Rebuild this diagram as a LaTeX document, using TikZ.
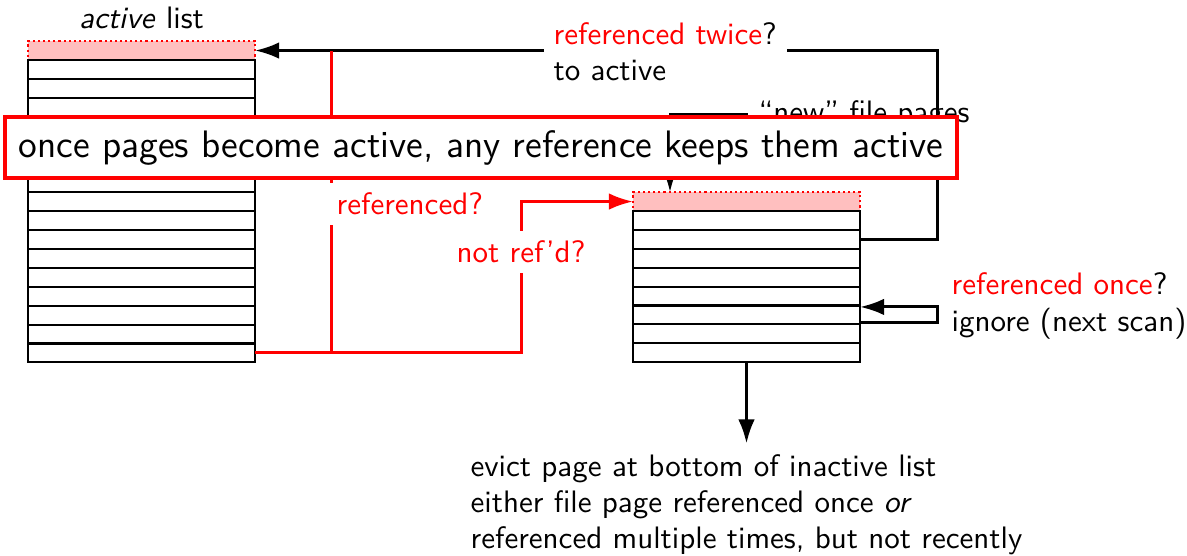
\documentclass[tikz,border=0pt]{standalone}
\usepackage{tikz}
\usetikzlibrary{positioning,calc,arrows.meta}
\renewcommand{\familydefault}{\sfdefault}

\begin{document}
\begin{tikzpicture}[x=0.332pt,y=-0.332pt,
  every node/.style={font=\fontsize{10.3pt}{12pt}\selectfont},
  row/.style={draw,line width=0.7pt,minimum width=227*0.332pt,minimum height=18.9*0.332pt,inner sep=0pt,outer sep=0pt},
  newrow/.style={row,draw=red,densely dotted,fill=red!25},
  wire/.style={line width=1pt,-{Latex[length=8pt,width=5.5pt]}},
  redwire/.style={wire,red},
  lbl/.style={fill=white,align=left}]
\useasboundingbox (0,0) rectangle (1187,556);

%active list
\node[newrow] (a0) at (141.5,50.55) {};
\foreach \k in {1,...,16}{
	\pgfmathsetmacro{\prev}{int(\k-1)}
	\node[row,below=0pt of a\prev] (a\k) {};
}
\node[above=0.5pt of a0] (title) {\emph{active} list};

%inactive list
\node[newrow] (i0) at (746.5,201.55) {};
\foreach \k in {1,...,8}{
	\pgfmathsetmacro{\prev}{int(\k-1)}
	\node[row,below=0pt of i\prev] (i\k) {};
}

%edges
\draw[wire] (i2.east) -- ++(77,0) |- (a0.east);
\path (a16.east) ++(76,0) coordinate (fork);
\draw[redwire,-] (fork) -- (fork |- a0.east);
\draw[redwire] (a16.east) -- ++(266,0) |- (i0.west);

\node[anchor=west] (new) at (748,115) {``new'' file pages};
\path (i0.north west) ++(37,0) coordinate (drop);
\draw[wire] (new.west) -| (drop);

\draw[wire] ($(i6.east)+(0,8)$) -- ++(77,0) |- ($(i6.east)+(0,-8)$);

\node[below=27pt of i8,align=left] (evict) {evict page at bottom of inactive list\\either file page referenced once \emph{or}\\referenced multiple times, but not recently};
\draw[wire] (i8) -- (evict);

%labels
\node[lbl,anchor=west] (twice) at (543,52) {\textcolor{red}{referenced twice}?\\to active};
\node[lbl,anchor=west,text=red] (refd) at (326,204) {referenced?};
\node[lbl,text=red] (notrefd) at (521,252) {not ref'd?};
\node[anchor=west,align=left] (once) at (941,306) {\textcolor{red}{referenced once}?\\ignore (next scan)};

%banner
\node[draw=red,line width=1.3pt,fill=white,minimum width=952*0.332pt,minimum height=61*0.332pt,font=\fontsize{12.7pt}{15pt}\selectfont] (banner) at (481,147.5) {once pages become active, any reference keeps them active};

\end{tikzpicture}
\end{document}
